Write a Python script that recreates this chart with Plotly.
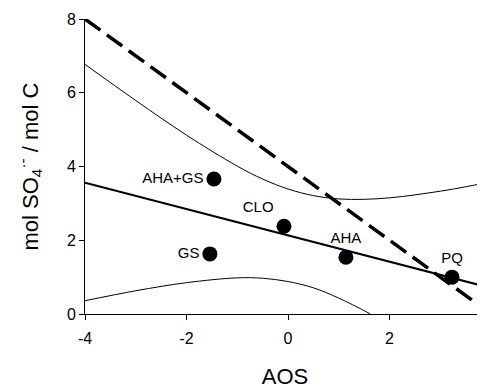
import plotly.graph_objects as go

# Data points
labels = ["AHA+GS", "CLO", "GS", "AHA", "PQ"]
aos = [-1.46, -0.08, -1.54, 1.14, 3.23]
so4 = [3.66, 2.38, 1.63, 1.54, 1.00]
label_pos = ["middle left", "top left", "middle left", "top center", "top center"]

# Regression line
reg_x = [-4.0, 3.9]
reg_y = [3.56, 0.74]

# Confidence band curves
band_x = [-4.0, -3.0, -2.0, -1.0, -0.5, 0.0, 0.5, 1.0, 1.5, 2.0, 2.5, 3.0, 3.5, 3.9]
upper_y = [6.77, 5.79, 4.85, 4.01, 3.66, 3.39, 3.21, 3.12, 3.11, 3.15, 3.23, 3.33, 3.45, 3.56]
lower_x = [-4.0, -3.0, -2.0, -1.0, -0.5, 0.0, 0.5, 1.0, 1.5, 1.62]
lower_y = [0.36, 0.63, 0.85, 0.98, 0.97, 0.88, 0.71, 0.43, 0.09, 0.0]

# Dashed reference line
ref_x = [-4.0, 4.0]
ref_y = [8.0, 0.0]

# Ticks
x_ticks = [-4, -2, 0, 2]
x_ticktext = ["-4", "-2", "0", "2"]
y_ticks = [0, 2, 4, 6, 8]

FONT = "Liberation Sans, Arial"

fig = go.Figure()
fig.add_trace(go.Scatter(x=band_x, y=upper_y, mode="lines", line=dict(color="black", width=1, shape="spline"), hoverinfo="skip"))
fig.add_trace(go.Scatter(x=lower_x, y=lower_y, mode="lines", line=dict(color="black", width=1, shape="spline"), hoverinfo="skip"))
fig.add_trace(go.Scatter(x=reg_x, y=reg_y, mode="lines", line=dict(color="black", width=2)))
fig.add_trace(go.Scatter(x=ref_x, y=ref_y, mode="lines", line=dict(color="black", width=3.5, dash="19px,8px")))
fig.add_trace(go.Scatter(x=aos, y=so4, mode="markers+text", text=labels, textposition=label_pos,
                         marker=dict(color="black", size=15),
                         textfont=dict(family=FONT, size=15, color="black")))

axis_common = dict(showline=True, linecolor="black", linewidth=1, ticks="outside", ticklen=5,
                   tickcolor="black", showgrid=False, zeroline=False,
                   tickfont=dict(family=FONT, size=16, color="black"))

fig.update_layout(
    width=477, height=382,
    margin=dict(l=77, r=0, t=11, b=76),
    paper_bgcolor="white", plot_bgcolor="white",
    showlegend=False,
    xaxis=dict(range=[-4, 3.88], tickvals=x_ticks, ticktext=x_ticktext, ticklabelstandoff=5,
               title=dict(text="AOS", font=dict(family=FONT, size=22, color="black"), standoff=22),
               **axis_common),
    yaxis=dict(range=[0, 8], tickvals=y_ticks,
               title=dict(text="mol SO<sub>4</sub><sup>·-</sup> / mol C", font=dict(family=FONT, size=22, color="black"), standoff=22),
               **axis_common),
)
fig.write_html("out.html")
